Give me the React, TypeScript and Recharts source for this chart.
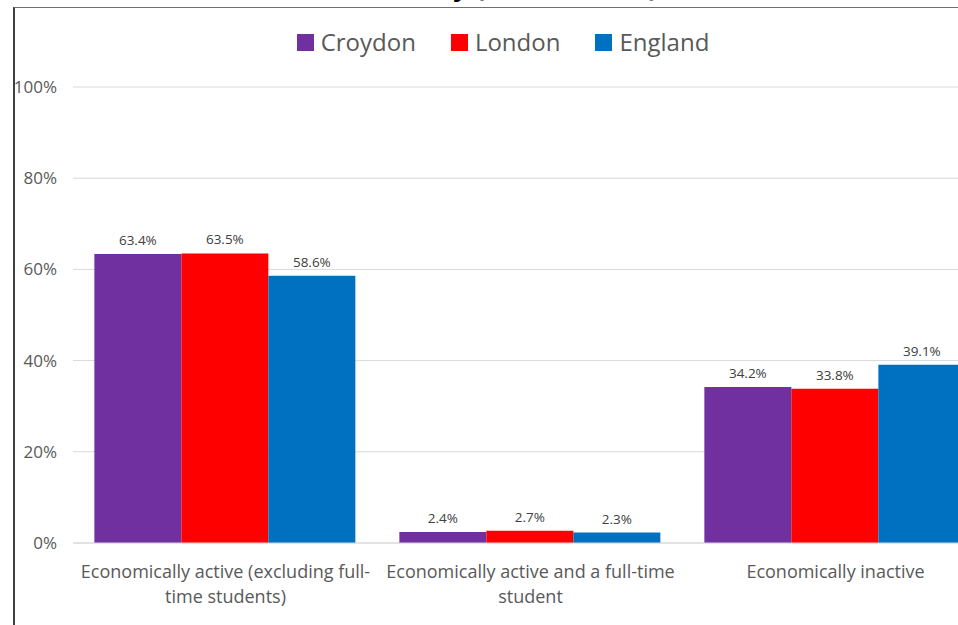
import { Bar, BarChart, CartesianGrid, LabelList, XAxis, YAxis } from 'recharts';

const CATEGORIES = [
  'Economically active (excluding full-time students)',
  'Economically active and a full-time student',
  'Economically inactive',
];
const CROYDON = [63.4, 2.4, 34.2];
const LONDON = [63.5, 2.7, 33.8];
const ENGLAND = [58.6, 2.3, 39.1];
const Y_TICKS = [0, 20, 40, 60, 80, 100];
const TITLE = 'Economic activity (Census 2021)';

const SERIES = [
  { key: 'croydon', name: 'Croydon', color: '#7030A0' },
  { key: 'london', name: 'London', color: '#FF0000' },
  { key: 'england', name: 'England', color: '#0070C0' },
];

const data = CATEGORIES.map((category, i) => ({
  category,
  croydon: CROYDON[i],
  london: LONDON[i],
  england: ENGLAND[i],
}));

const FONT = '"Open Sans", sans-serif';

// break the label into lines of at most ~36 chars, splitting after spaces and hyphens
function wrap(text: string, max = 36) {
  const tokens = text.match(/[^ -]+-|[^ -]+/g) ?? [];
  const lines: string[] = [];
  let cur = '';
  for (const t of tokens) {
    const sep = cur === '' || cur.endsWith('-') ? '' : ' ';
    if (cur && (cur + sep + t).length > max) {
      lines.push(cur);
      cur = t;
    } else {
      cur = cur + sep + t;
    }
  }
  if (cur) lines.push(cur);
  return lines;
}

function CategoryTick({ x, y, payload }: any) {
  const lines = wrap(payload.value);
  return (
    <text textAnchor="middle" fill="#595959" fontSize={18} fontFamily={FONT}>
      {lines.map((line, i) => (
        <tspan key={i} x={x} y={y + 35 + i * 25}>
          {line}
        </tspan>
      ))}
    </text>
  );
}

export default function App() {
  return (
    <div style={{ position: 'fixed', left: 0, top: 0, width: 958, height: 625, overflow: 'hidden', background: '#fff', fontFamily: FONT }}>
      <div style={{ position: 'absolute', left: 0, top: 0 }}>
        <BarChart width={1000} height={625} data={data} margin={{ top: 87, right: 12, left: 0, bottom: 22 }} barCategoryGap="7%" barGap={0}>
          <CartesianGrid vertical={false} stroke="#d9d9d9" />
          <XAxis dataKey="category" height={60} tickLine={false} tickSize={0} tickMargin={0} axisLine={{ stroke: '#d9d9d9' }} tick={<CategoryTick />} interval={0} />
          <YAxis
            width={73}
            domain={[0, 100]}
            ticks={Y_TICKS}
            tickFormatter={(v: number) => `${v}%`}
            tickLine={false}
            tickSize={0}
            tickMargin={16}
            axisLine={false}
            tick={{ fill: '#595959', fontSize: 17, fontFamily: FONT }}
          />
          {SERIES.map((s) => (
            <Bar key={s.key} dataKey={s.key} name={s.name} fill={s.color} isAnimationActive={false}>
              <LabelList dataKey={s.key} position="top" offset={9} fill="#404040" fontSize={13.5} fontFamily={FONT} formatter={(v: any) => `${Number(v).toFixed(1)}%`} />
            </Bar>
          ))}
        </BarChart>
      </div>
      <svg width={958} height={20} style={{ position: 'absolute', left: 0, top: 0, zIndex: 2, overflow: 'hidden' }}>
        <text x={658} y={-4} textAnchor="end" fontSize={26} letterSpacing={0.5} fontWeight="bold" fill="#000" fontFamily={FONT}>
          {TITLE}
        </text>
      </svg>
      <div style={{ position: 'absolute', left: 13, top: 7, width: 1000, height: 700, borderLeft: '2px solid #404040', borderTop: '1px solid #6f6f6f', zIndex: 2 }} />
      <div style={{ position: 'absolute', left: 0, top: 26, width: 1006, display: 'flex', justifyContent: 'center', gap: 35, color: '#595959', fontSize: 24, lineHeight: '32px', zIndex: 2 }}>
        {SERIES.map((s) => (
          <div key={s.key} style={{ display: 'flex', alignItems: 'center', gap: 7 }}>
            <span style={{ width: 17, height: 17, background: s.color, display: 'inline-block' }} />
            <span>{s.name}</span>
          </div>
        ))}
      </div>
    </div>
  );
}
